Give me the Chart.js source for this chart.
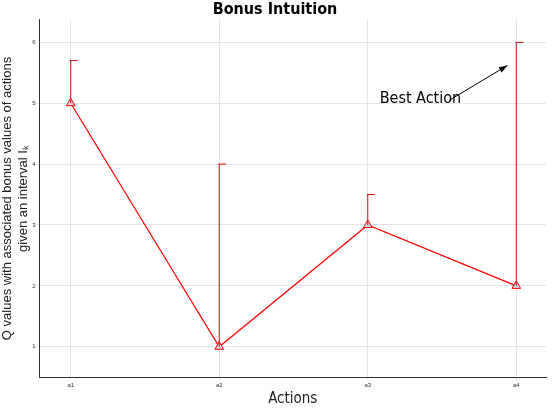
<!DOCTYPE html>
<html><head><meta charset="utf-8">
<script src="https://cdn.jsdelivr.net/npm/chart.js@4"></script>
<style>html,body{margin:0;padding:0;background:#fff}#w{width:552px;height:408px}</style>
</head><body><div id="w"><canvas id="c" width="552" height="408"></canvas></div>
<script>
const categories = ["a1","a2","a3","a4"];
const qValues = [5,1,3,2];
const upperValues = [5.7,4,3.5,6];
const yTicks = [1,2,3,4,5,6];
const annotation = {text:"Best Action", textAt:[3.08,5.07], arrowFrom:[3.55,5.05], arrowTo:[3.94,5.62]};
const NARROW = '"Liberation Sans Narrow", "DejaVu Sans Condensed", Arial';

const extras = {
  id:'extras',
  afterDatasetsDraw(chart){
    const {ctx, scales:{x,y}} = chart;
    ctx.save();
    ctx.strokeStyle='#d01010'; ctx.lineWidth=1;
    qValues.forEach((v,i)=>{
      const px=x.getPixelForValue(i+1), p0=y.getPixelForValue(v), p1=y.getPixelForValue(upperValues[i]);
      ctx.beginPath(); ctx.moveTo(px,p0); ctx.lineTo(px,p1);
      ctx.moveTo(px-1,p1); ctx.lineTo(px+7,p1); ctx.stroke();
    });
    ctx.fillStyle='#000'; ctx.font='16px '+NARROW; ctx.textBaseline='middle';
    ctx.fillText(annotation.text, x.getPixelForValue(annotation.textAt[0]), y.getPixelForValue(annotation.textAt[1]));
    const ax=x.getPixelForValue(annotation.arrowFrom[0]), ay=y.getPixelForValue(annotation.arrowFrom[1]);
    const bx=x.getPixelForValue(annotation.arrowTo[0]), by=y.getPixelForValue(annotation.arrowTo[1]);
    ctx.strokeStyle='#000'; ctx.beginPath(); ctx.moveTo(ax,ay); ctx.lineTo(bx,by); ctx.stroke();
    const a=Math.atan2(by-ay,bx-ax);
    ctx.beginPath(); ctx.moveTo(bx,by);
    ctx.lineTo(bx-9*Math.cos(a-0.35), by-9*Math.sin(a-0.35));
    ctx.lineTo(bx-9*Math.cos(a+0.35), by-9*Math.sin(a+0.35)); ctx.closePath(); ctx.fill();
    ctx.restore();
  }
};

new Chart(document.getElementById('c'),{
  type:'line',
  data:{datasets:[{
    data:qValues.map((v,i)=>({x:i+1,y:v})),
    borderColor:'#ff0000', borderWidth:1.2,
    pointStyle:'triangle', pointRadius:5, pointBackgroundColor:'#c8dce8', pointBorderColor:'#ff0000', pointBorderWidth:1
  }]},
  options:{
    responsive:false, animation:false,
    layout:{padding:{right:2,top:0,left:0,bottom:0}},
    plugins:{legend:{display:false}, tooltip:{enabled:false},
      title:{display:true,text:'Bonus Intuition',font:{family:NARROW,size:16,weight:'bold'},color:'#000',padding:{top:0,bottom:0}}},
    scales:{
      x:{type:'linear',min:0.79,max:4.2,
        afterBuildTicks(s){s.ticks=categories.map((c,i)=>({value:i+1}));},
        ticks:{callback:(v)=>categories[v-1],font:{size:6},color:'#333',maxRotation:0,autoSkip:false,padding:1},
        grid:{color:'#e6e6e6',tickLength:3},border:{color:'#333'},
        title:{display:true,text:'Actions',font:{family:NARROW,size:15},color:'#222',padding:{top:0,bottom:0}}},
      y:{min:0.49,max:6.38,
        afterBuildTicks(s){s.ticks=yTicks.map(v=>({value:v}));},
        ticks:{font:{size:6},color:'#333',padding:1},
        grid:{color:'#e6e6e6',tickLength:3},border:{color:'#333'},
        title:{display:true,text:['Q values with associated bonus values of actions','given an interval I\u2096'],font:{family:'"Liberation Sans", Arial',size:13},color:'#222',padding:{top:0,bottom:0},lineHeight:0.95}}
    }
  },
  plugins:[extras]
});
</script></body></html>
